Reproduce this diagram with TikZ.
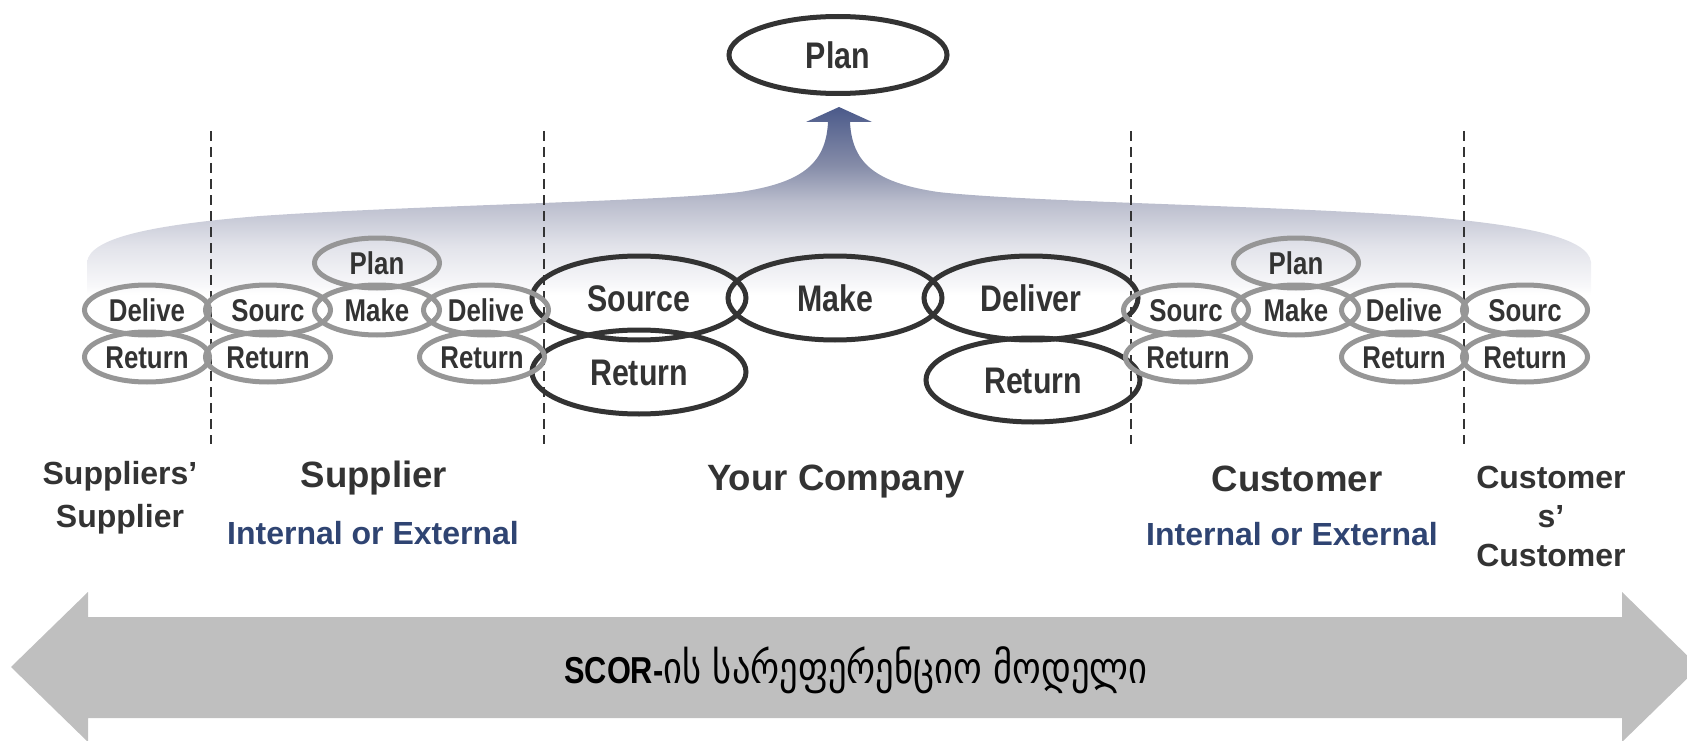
\documentclass[tikz,border=0pt]{standalone}
\usepackage{fontspec}
\setmainfont{Liberation Sans}
\newfontfamily\narrowfont[FakeStretch=0.82]{Liberation Sans}
\newfontfamily\geofont[FakeStretch=0.83]{DejaVu Sans}
\usetikzlibrary{shapes.geometric}
\definecolor{dk}{HTML}{333333}
\definecolor{gy}{HTML}{969696}
\definecolor{bl}{HTML}{2F4472}
\definecolor{arr}{HTML}{BFBFBF}
\definecolor{sa}{HTML}{F8F8FA}
\definecolor{sb}{HTML}{E2E3EA}
\definecolor{sc}{HTML}{B9BCCC}
\definecolor{sd}{HTML}{858CA8}
\definecolor{se}{HTML}{4B5A8A}
\pgfdeclareverticalshading{bandshade}{100bp}{color(0bp)=(white); color(25bp)=(white); color(27.5bp)=(sa); color(38bp)=(sb); color(50bp)=(sc); color(59.5bp)=(sd); color(75bp)=(se); color(100bp)=(se)}
\begin{document}
\begin{tikzpicture}[x=1pt,y=-1pt,
  bigell/.style={ellipse, draw=dk, line width=5pt, minimum width=214pt, minimum height=84pt, inner sep=0pt,
    font=\narrowfont\bfseries\fontsize{37}{40}\selectfont, text=dk, text height=26.5pt, text depth=0pt},
  smallell/.style={ellipse, draw=gy, line width=5pt, minimum width=125pt, minimum height=50pt, inner sep=0pt,
    font=\narrowfont\bfseries\fontsize{31.5}{34}\selectfont, text=dk, text height=22.5pt, text depth=0pt},
  divider/.style={draw=dk, line width=2.4pt, dash pattern=on 10pt off 6pt},
  biglab/.style={font=\bfseries\fontsize{36.6}{40}\selectfont, text=dk, anchor=base, inner sep=0pt},
  sublab/.style={font=\bfseries\fontsize{32}{36}\selectfont, text=dk, anchor=base, inner sep=0pt},
  bluelab/.style={font=\bfseries\fontsize{32}{36}\selectfont, text=bl, anchor=base, inner sep=0pt}
]
\useasboundingbox (0,0) rectangle (1687,741);
% gradient band with arrow to Plan
\shade[shading=bandshade] (87,295) -- (87,262) .. controls (90,238) and (150,225) .. (260,216)
  .. controls (420,205) and (650,202) .. (740,192) .. controls (800,183) and (826,165) .. (828,122)
  -- (806,122) -- (839,107) -- (872,122) -- (850,122)
  .. controls (852,165) and (878,183) .. (938,192) .. controls (1028,202) and (1258,205) .. (1418,216)
  .. controls (1528,225) and (1588,238) .. (1591,262) -- (1591,295) -- cycle;
% bottom double arrow
\fill[arr] (11,667) -- (88,592) -- (88,617) -- (1622,617) -- (1622,592) -- (1699,667)
  -- (1622,742) -- (1622,718) -- (88,718) -- (88,742) -- cycle;
% dividers
\foreach \n/\x in {d1/211,d2/544,d3/1131,d4/1464}{
  \coordinate (\n t) at (\x,131);
  \coordinate (\n b) at (\x,444);
  \draw[divider] (\n t) -- (\n b);
}
% top plan
\node[bigell, minimum width=218pt, minimum height=77pt] (planTop) at (838,55) {Plan};
% your company
\node[bigell] (srcY) at (639,298) {Source};
\node[bigell] (makeY) at (835,298) {Make};
\node[bigell] (delY) at (1031,298) {Deliver};
\node[bigell] (retYs) at (639,372) {Return};
\node[bigell] (retYd) at (1033,380) {Return};
% suppliers' supplier & supplier
\node[smallell] (delSS) at (147,310) {Delive};
\node[smallell] (retSS) at (147,357) {Return};
\node[smallell] (srcS) at (268,310) {Sourc};
\node[smallell] (retS1) at (268,357) {Return};
\node[smallell] (planS) at (377,263) {Plan};
\node[smallell] (makeS) at (377,310) {Make};
\node[smallell] (delS) at (486,310) {Delive};
\node[smallell] (retS2) at (482,357) {Return};
% customer & customers' customer
\node[smallell] (srcC) at (1186,310) {Sourc};
\node[smallell] (retC1) at (1188,357) {Return};
\node[smallell] (planC) at (1296,263) {Plan};
\node[smallell] (makeC) at (1296,310) {Make};
\node[smallell] (delC) at (1404,310) {Delive};
\node[smallell] (retC2) at (1404,357) {Return};
\node[smallell] (srcCC) at (1525,310) {Sourc};
\node[smallell] (retCC) at (1525,357) {Return};
% labels
\node[sublab] (ssA) at (120,484.5) {Suppliers’};
\node[sublab] (ssB) at (120,527.5) {Supplier};
\node[biglab] (sup) at (374,487) {Supplier};
\node[bluelab] (supIE) at (373,544.5) {Internal or External};
\node[biglab] (yc) at (836,490) {Your Company};
\node[biglab] (cus) at (1297,491) {Customer};
\node[bluelab] (cusIE) at (1292,545.5) {Internal or External};
\node[sublab] (ccA) at (1551,488) {Customer};
\node[sublab] (ccB) at (1551,527) {s’};
\node[sublab] (ccC) at (1551,566.5) {Customer};
% bottom text
\node[anchor=base, inner sep=0pt, text=black] (scor) at (856,683)
  {{\narrowfont\bfseries\fontsize{37.5}{40}\selectfont SCOR-}{\geofont\fontsize{44}{48}\selectfont ის სარეფერენციო მოდელი}};
\end{tikzpicture}
\end{document}
